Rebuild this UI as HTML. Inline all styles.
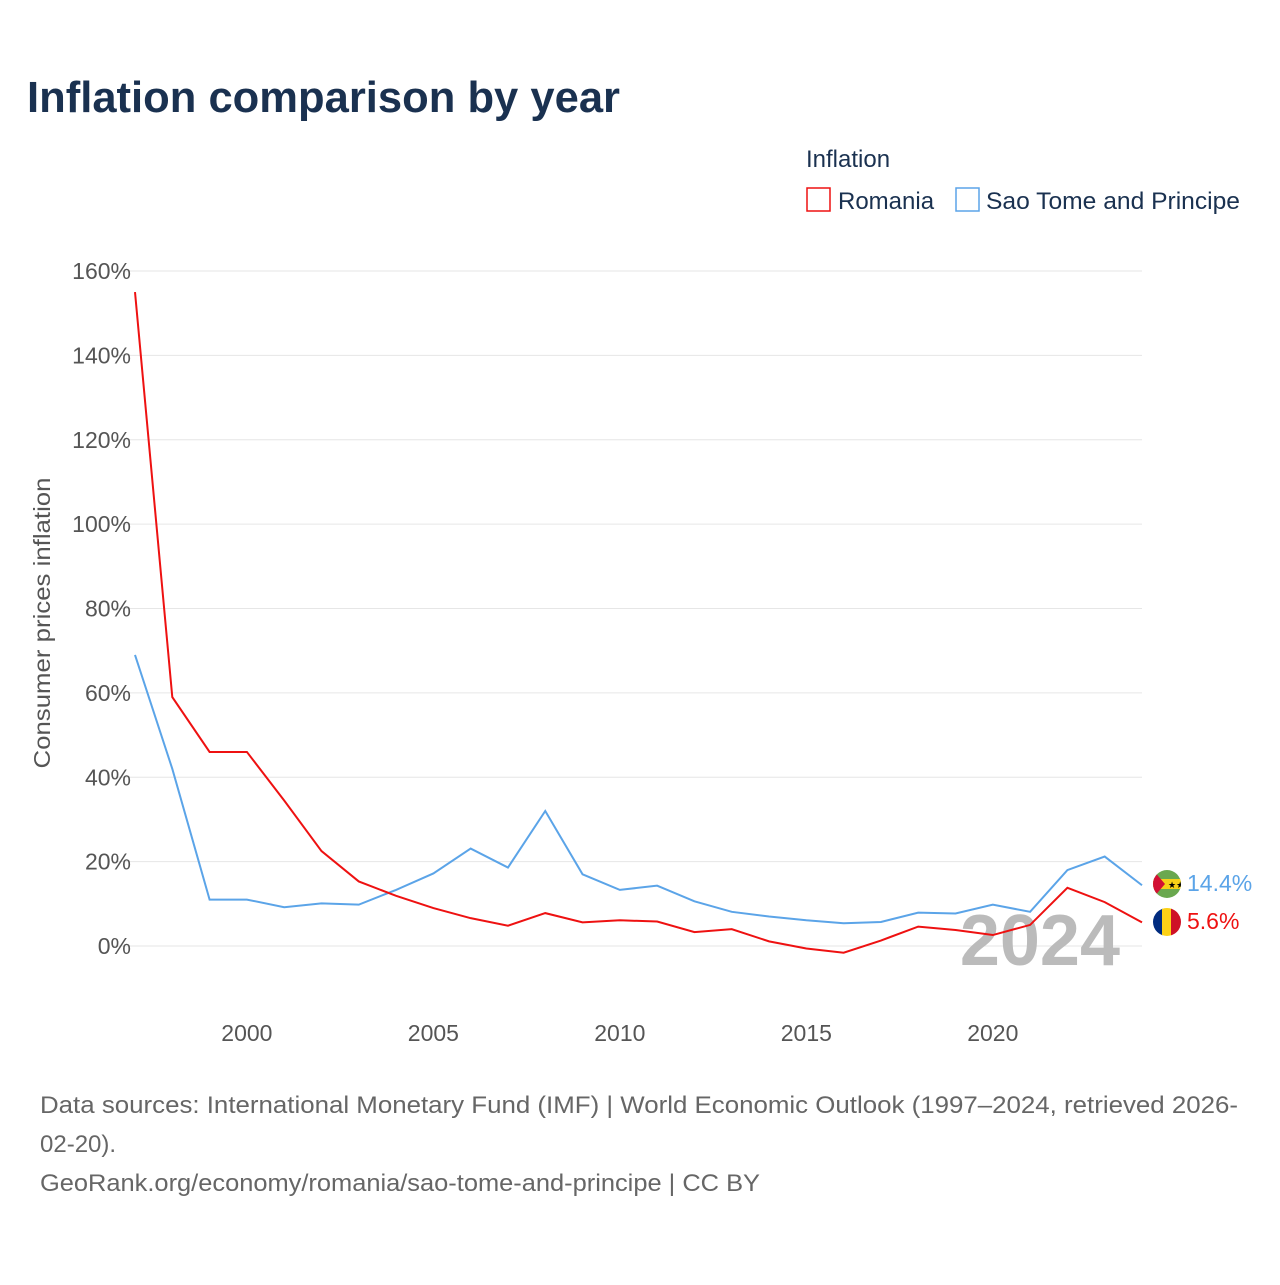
<!DOCTYPE html>
<html><head><meta charset="utf-8"><style>
body{margin:0;width:1280px;height:1280px;background:#fff;font-family:"Liberation Sans",sans-serif;overflow:hidden}
</style></head><body>
<svg id="chart" width="1280" height="1280" xmlns="http://www.w3.org/2000/svg">
<text x="27" y="112" font-size="44" font-weight="bold" fill="#1a3150" textLength="593" lengthAdjust="spacingAndGlyphs">Inflation comparison by year</text>
<text x="806" y="167" font-size="24" fill="#1a3150">Inflation</text>
<g><rect x="807" y="188" width="23" height="23" fill="none" stroke="#ee1111" stroke-width="1.5"/><text x="838" y="209" font-size="24" fill="#1a3150">Romania</text></g>
<g><rect x="956" y="188" width="23" height="23" fill="none" stroke="#5ba4e8" stroke-width="1.5"/><text x="986" y="209" font-size="24" fill="#1a3150" textLength="254" lengthAdjust="spacingAndGlyphs">Sao Tome and Principe</text></g>
<g id="grid"></g><g id="xt"></g>
<text x="1120" y="965" font-size="72" font-weight="bold" fill="#bbb" text-anchor="end">2024</text>
<g id="lines"></g>
<text transform="translate(50,623) rotate(-90)" font-size="23" fill="#555" text-anchor="middle" textLength="291" lengthAdjust="spacingAndGlyphs">Consumer prices inflation</text>
<g><clipPath id="c1"><circle cx="1167" cy="884" r="14"/></clipPath><g clip-path="url(#c1)"><rect x="1153" y="870" width="28" height="28" fill="#6aa84f"/><rect x="1153" y="879" width="28" height="10" fill="#f7d117"/><polygon points="1153,870 1165,884 1153,898" fill="#d21034"/><text x="1168" y="888" font-size="9" fill="#000">★★</text></g></g>
<g><clipPath id="c2"><circle cx="1167" cy="922" r="14"/></clipPath><g clip-path="url(#c2)"><rect x="1153" y="908" width="10" height="28" fill="#002b7f"/><rect x="1162" y="908" width="10" height="28" fill="#fcd116"/><rect x="1171" y="908" width="10" height="28" fill="#ce1126"/></g></g>
<text x="1187" y="891" font-size="23" fill="#5ba4e8">14.4%</text>
<text x="1187" y="929" font-size="23" fill="#ee1111">5.6%</text>
<text font-size="24" fill="#666"><tspan x="40" y="1113" textLength="1198" lengthAdjust="spacingAndGlyphs">Data sources: International Monetary Fund (IMF) | World Economic Outlook (1997–2024, retrieved 2026-</tspan><tspan x="40" y="1152">02-20).</tspan><tspan x="40" y="1191" textLength="720" lengthAdjust="spacingAndGlyphs">GeoRank.org/economy/romania/sao-tome-and-principe | CC BY</tspan></text>
</svg>
<script>
const years=[1997,1998,1999,2000,2001,2002,2003,2004,2005,2006,2007,2008,2009,2010,2011,2012,2013,2014,2015,2016,2017,2018,2019,2020,2021,2022,2023,2024];
const romania=[155,59,46,46,34.5,22.5,15.3,11.9,9.0,6.6,4.8,7.8,5.6,6.1,5.8,3.3,4.0,1.1,-0.6,-1.6,1.3,4.6,3.8,2.6,5.0,13.8,10.4,5.6];
const saoTome=[69,42,11,11,9.2,10.1,9.8,13.3,17.2,23.1,18.6,32,17,13.3,14.3,10.6,8.1,7.0,6.1,5.4,5.7,7.9,7.7,9.8,8.1,18.0,21.2,14.4];
const yTicks=[0,20,40,60,80,100,120,140,160];
const xTicks=[2000,2005,2010,2015,2020];
const NS="http://www.w3.org/2000/svg";
const xs=y=>135+(y-1997)*(1142-135)/27;
const ys=v=>946-v*(946-271)/160;
function mk(t,a,p){const e=document.createElementNS(NS,t);for(const k in a)e.setAttribute(k,a[k]);p.appendChild(e);return e;}
const grid=document.getElementById('grid');
yTicks.forEach(v=>{
 const l=mk('line',{x1:112,x2:1142,y1:ys(v),y2:ys(v),stroke:'#e6e6e6','stroke-width':1},grid);
 
 
 const t=mk('text',{x:131,y:ys(v)+8,'font-size':23,fill:'#555','text-anchor':'end'},grid);
 t.textContent=v+'%';
 
 
});
const xt=document.getElementById('xt');
xTicks.forEach(v=>{
 const t=mk('text',{x:xs(v),y:1041,'font-size':23,fill:'#555','text-anchor':'middle'},xt);
 t.textContent=v;
 
 
});
const lines=document.getElementById('lines');
[[saoTome,'#5ba4e8','line-sao-tome'],[romania,'#ee1111','line-romania']].forEach(([d,c,n])=>{
 const p=mk('polyline',{points:d.map((v,i)=>xs(years[i])+','+ys(v)).join(' '),fill:'none',stroke:c,'stroke-width':2},lines);
 
 
});
</script>
</body></html>
